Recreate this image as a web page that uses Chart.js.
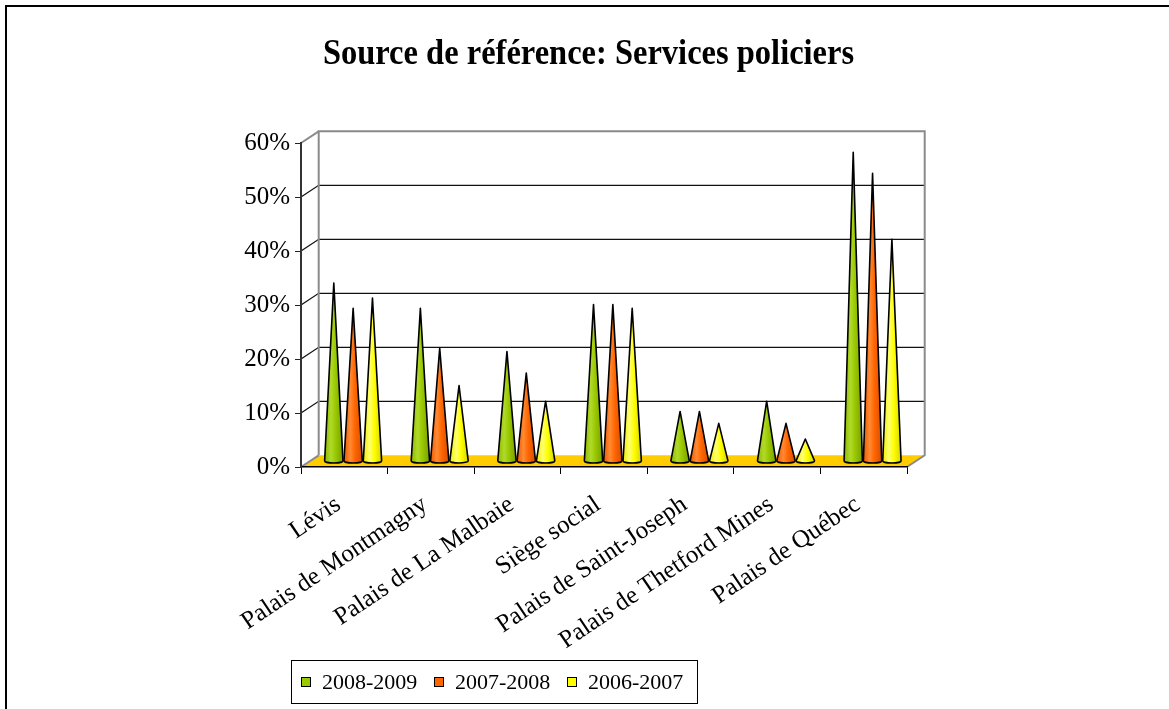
<!DOCTYPE html>
<html>
<head>
<meta charset="utf-8">
<script src="https://cdn.jsdelivr.net/npm/chart.js@4.4.1/dist/chart.umd.min.js"></script>
<style>
  body { margin: 0; background: #fff; overflow: hidden; }
  #wrap { position: relative; width: 1169px; height: 709px; }
  #frame { position: absolute; left: 5px; top: 5px; width: 2000px; height: 2000px;
    border-left: 2px solid #000; border-top: 2px solid #000; }
  #title { position: absolute; left: 4px; width: 1169px; top: 34px; text-align: center;
    font: bold 32.5px 'Liberation Serif', serif; transform: scaleY(1.12); }
  #legend { position: absolute; left: 291px; top: 660px; width: 405px; height: 42px;
    border: 1px solid #000; font: 22px 'Liberation Serif', serif; }
  #legend .item { position: absolute; top: 8px; display: flex; align-items: center; }
  #legend .sw { width: 10px; height: 10px; box-sizing: border-box; border: 1px solid #000; margin-right: 11px; }
  canvas { position: absolute; left: 0; top: 0; }
</style>
</head>
<body>
<div id="wrap">
  <canvas id="chart" width="1169" height="709"></canvas>
  <div id="frame"></div>
  <div id="title">Source de référence: Services policiers</div>
  <div id="legend"></div>
</div>
<script>
// === Données ===
const categories = [
  'Lévis',
  'Palais de Montmagny',
  'Palais de La Malbaie',
  'Siège social',
  'Palais de Saint-Joseph',
  'Palais de Thetford Mines',
  'Palais de Québec'
];
const seriesNames = ['2008-2009', '2007-2008', '2006-2007'];
const values0809 = [33.0, 28.3, 20.3, 29.0, 9.2, 11.1, 57.2];
const values0708 = [28.3, 20.9, 16.3, 29.0, 9.2, 7.0, 53.3];
const values0607 = [30.2, 14.0, 11.1, 28.3, 7.0, 4.1, 41.1];
const yMax = 60;
const yStep = 10;

// couleurs des cônes : sombre, reflet, base, ombre
const swatches = ['#99CC00', '#FF6600', '#FFFF00'];
const shades = [
  ['#8CB800', '#B0DA2A', '#99C800', '#7A9E00'],
  ['#EE5A00', '#FF8A33', '#FF6600', '#D64E00'],
  ['#EEEE00', '#FFFF70', '#FFFF00', '#D6D600']
];

// profondeur 3D (mur du fond)
const DX = 17.7, DY = -11.7;

// === Plugin : murs, plancher et cônes ===
const cone3d = {
  id: 'cone3d',
  beforeDraw(chart) {
    const { ctx, chartArea: a, scales: { y } } = chart;
    ctx.save();
    // plancher
    ctx.fillStyle = '#FFCC00';
    ctx.beginPath();
    ctx.moveTo(a.left, a.bottom);
    ctx.lineTo(a.right, a.bottom);
    ctx.lineTo(a.right + DX, a.bottom + DY);
    ctx.lineTo(a.left + DX, a.bottom + DY);
    ctx.closePath();
    ctx.fill();
    // lignes du mur du fond + diagonales du mur gauche
    y.ticks.forEach(t => {
      const py = y.getPixelForValue(t.value);
      const edge = t.value === 0 || t.value === yMax;
      ctx.strokeStyle = edge ? '#8a8a8a' : '#111';
      ctx.lineWidth = edge ? 2 : 1.3;
      ctx.beginPath();
      ctx.moveTo(a.left, py);
      ctx.lineTo(a.left + DX, py + DY);
      if (!edge) ctx.lineTo(a.right + DX, py + DY);
      ctx.stroke();
    });
    // contour du mur
    ctx.strokeStyle = '#8a8a8a';
    ctx.lineWidth = 2;
    ctx.beginPath();
    ctx.moveTo(a.left + DX, a.bottom + DY);
    ctx.lineTo(a.left + DX, a.top + DY);
    ctx.lineTo(a.right + DX, a.top + DY);
    ctx.lineTo(a.right + DX, a.bottom + DY);
    ctx.lineTo(a.right, a.bottom);
    ctx.stroke();
    ctx.restore();
  },
  afterDatasetsDraw(chart) {
    const { ctx } = chart;
    ctx.save();
    chart.data.datasets.forEach((ds, i) => {
      const meta = chart.getDatasetMeta(i);
      const sh = shades[i];
      meta.data.forEach(bar => {
        const x = bar.x + DX * 0.5;
        const tip = bar.y + DY * 0.5;
        const base = bar.base + DY * 0.5;
        const rx = bar.width / 2 - 0.5;
        const ry = 2.4;
        const g = ctx.createLinearGradient(x - rx, 0, x + rx, 0);
        g.addColorStop(0, sh[0]);
        g.addColorStop(0.35, sh[1]);
        g.addColorStop(0.6, sh[2]);
        g.addColorStop(1, sh[3]);
        ctx.beginPath();
        ctx.moveTo(x, tip);
        ctx.lineTo(x + rx, base);
        ctx.ellipse(x, base, rx, ry, 0, 0, Math.PI);
        ctx.closePath();
        ctx.fillStyle = g;
        ctx.fill();
        ctx.strokeStyle = '#000';
        ctx.lineWidth = 1.6;
        ctx.lineJoin = 'round';
        ctx.stroke();
      });
    });
    ctx.restore();
  }
};

const allValues = [values0809, values0708, values0607];

new Chart(document.getElementById('chart'), {
  type: 'bar',
  data: {
    labels: categories,
    datasets: allValues.map((vals, i) => ({
      label: seriesNames[i],
      data: vals,
      backgroundColor: 'rgba(0,0,0,0)',
      borderWidth: 0,
      categoryPercentage: 0.67,
      barPercentage: 1
    }))
  },
  options: {
    responsive: false,
    animation: false,
    layout: { padding: { top: 143, left: 0, right: 0, bottom: 0 } },
    plugins: { legend: { display: false }, title: { display: false }, tooltip: { enabled: false } },
    scales: {
      x: {
        grid: { display: true, drawOnChartArea: false, drawTicks: true, tickLength: 7, color: '#000', offset: true },
        border: { color: '#000', width: 1.5 },
        ticks: {
          color: '#000',
          font: { family: 'Liberation Serif', size: 25 },
          minRotation: 34,
          maxRotation: 34,
          autoSkip: false,
          padding: 16,
          labelOffset: -6
        },
        afterFit: s => { s.height = 242; }
      },
      y: {
        min: 0,
        max: yMax,
        grid: { drawOnChartArea: false, drawTicks: true, tickLength: 6, color: '#222' },
        border: { color: '#333', width: 2 },
        ticks: {
          stepSize: yStep,
          color: '#000',
          padding: 5,
          font: { family: 'Liberation Serif', size: 25 },
          callback: v => v + '%'
        },
        afterFit: s => { s.width = 301; }
      },
      y2: {
        position: 'right',
        grid: { display: false },
        border: { display: false },
        ticks: { display: false },
        afterFit: s => { s.width = 262; }
      }
    }
  },
  plugins: [cone3d]
});

// === Légende ===
const legend = document.getElementById('legend');
const legendLeft = [9, 142, 275];
seriesNames.forEach((name, i) => {
  const item = document.createElement('div');
  item.className = 'item';
  item.style.left = legendLeft[i] + 'px';
  item.innerHTML = `<span class="sw" style="background:${swatches[i]}"></span><span>${name}</span>`;
  legend.appendChild(item);
});
</script>
</body>
</html>
